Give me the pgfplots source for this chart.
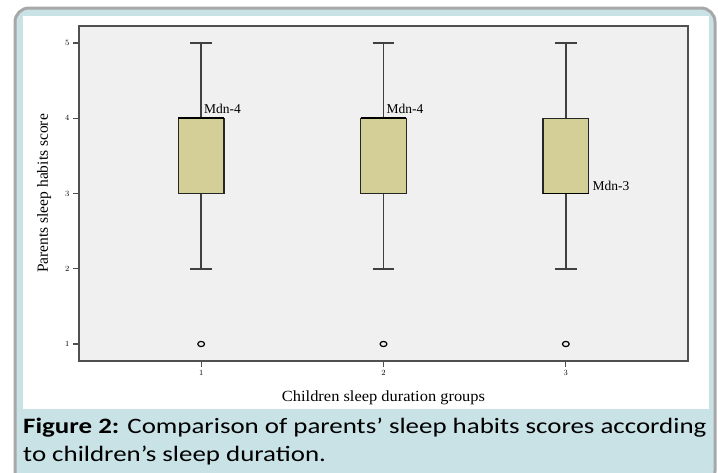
\documentclass[border=0pt]{standalone}
\usepackage{pgfplots}
\pgfplotsset{compat=1.18}
\usepgfplotslibrary{statistics}
\usepackage{fontspec}
\setmainfont{Liberation Serif}
\newfontfamily\capfont{Carlito}
\definecolor{framegray}{RGB}{168,168,168}
\definecolor{capblue}{RGB}{200,226,230}
\definecolor{plotbg}{RGB}{240,240,240}
\definecolor{boxfill}{RGB}{211,207,151}
\definecolor{axgray}{RGB}{80,80,80}
\begin{document}
\begin{tikzpicture}[x=1pt,y=1pt]
\path[use as bounding box] (0,0) rectangle (718,-472);
\begin{scope}
\clip (0,0) rectangle (718,-472);
\draw[framegray, line width=3pt, fill=capblue, rounded corners=14pt] (15,-8) rectangle (715,-485);
\fill[white] (23,-16) rectangle (709,-409);
\end{scope}

\begin{axis}[
  at={(79pt,-361pt)}, anchor=south west,
  scale only axis, width=609pt, height=335pt,
  xmin=0.33, xmax=3.67, ymin=0.774, ymax=5.226,
  axis background/.style={fill=plotbg},
  axis line style={draw=axgray, line width=1.2pt},
  xtick={1,2,3}, ytick={1,2,3,4,5},
  tick pos=left, tick align=outside,
  major tick length=6pt,
  tick style={draw=axgray, line width=1.1pt},
  tick label style={font=\fontsize{8}{9}\selectfont},
  xlabel={Children sleep duration groups},
  ylabel={Parents sleep habits score},
  label style={font=\fontsize{15.5}{17}\selectfont},
  xlabel style={at={(axis description cs:0.5,0)}, anchor=base, yshift=-40pt, xscale=1.06},
  ylabel style={at={(axis description cs:0,0.5)}, anchor=base, yshift=31pt},
  boxplot/draw direction=y,
  boxplot/box extend=0.25,
  boxplot/whisker extend=0.12,
  every boxplot/.style={draw=black!85, line width=1.1pt, fill=boxfill,
    mark=o, mark size=2.6pt, mark options={xscale=1.3, line width=1.2pt, draw=black, fill=none}},
  boxplot/every whisker/.style={draw=black!75, line width=1.6pt},
  boxplot/every median/.style={draw=black, line width=1.8pt},
]
\addplot[boxplot prepared={draw position=1, lower whisker=2, lower quartile=3,
  median=4, upper quartile=4, upper whisker=5}] coordinates {(0,1)};
\addplot[boxplot prepared={draw position=2, lower whisker=2, lower quartile=3,
  median=4, upper quartile=4, upper whisker=5}] coordinates {(0,1)};
\addplot[boxplot prepared={draw position=3, lower whisker=2, lower quartile=3,
  median=3, upper quartile=4, upper whisker=5}] coordinates {(0,1)};
\node[anchor=south west, inner sep=1pt, font=\fontsize{13.5}{15}\selectfont] at (axis cs:1.01,4.04) {Mdn-4};
\node[anchor=south west, inner sep=1pt, font=\fontsize{13.5}{15}\selectfont] at (axis cs:2.01,4.04) {Mdn-4};
\node[anchor=west, inner sep=1pt, font=\fontsize{13.5}{15}\selectfont] at (axis cs:3.14,3.1) {Mdn-3};
\end{axis}

\node[anchor=base west, inner sep=0pt, xscale=1.223, font=\capfont\fontsize{22}{26}\selectfont] at (23,-433)
  {\textbf{Figure 2:} Comparison of parents’ sleep habits scores according};
\node[anchor=base west, inner sep=0pt, xscale=1.223, font=\capfont\fontsize{22}{26}\selectfont] at (23,-461)
  {to children’s sleep duration.};
\end{tikzpicture}
\end{document}
